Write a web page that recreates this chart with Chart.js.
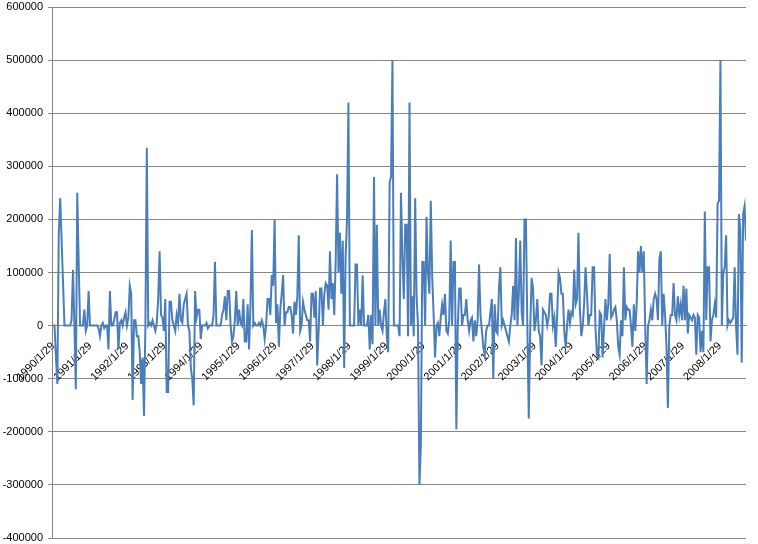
<!DOCTYPE html>
<html>
<head>
<meta charset="utf-8">
<script src="https://cdn.jsdelivr.net/npm/chart.js@4.4.0/dist/chart.umd.min.js"></script>
<style>
  html, body { margin: 0; padding: 0; background: #fff; }
  #wrap { width: 758px; height: 544px; }
</style>
</head>
<body>
<div id="wrap"><canvas id="chart" width="758" height="544"></canvas></div>
<script>
// x axis labels, one per year
const yearLabels = ['1990/1/29', '1991/1/29', '1992/1/29', '1993/1/29', '1994/1/29', '1995/1/29',
  '1996/1/29', '1997/1/29', '1998/1/29', '1999/1/29', '2000/1/29', '2001/1/29', '2002/1/29',
  '2003/1/29', '2004/1/29', '2005/1/29', '2006/1/29', '2007/1/29', '2008/1/29'];

// y axis range
const yMin = -400000;
const yMax = 600000;
const yStep = 100000;

// values every two weeks, starting 1990/1/29
const v1990 = [0, 0, -60000, -110000, 175000, 240000, 160000, 80000, 0, 0, 0, 0, 0, 10000, 105000, 0, -120000, 250000, 120000, 0, 0, 0, 30000, -10000, 0, 65000];
const v1991 = [0, 0, 0, 0, 0, 0, -5000, -20000, 0, 5000, -5000, 0, 0, -45000, 65000, 0, 0, 10000, 25000, 25000, -45000, 5000, 10000, 0, 15000, 25000];
const v1992 = [0, 15000, 75000, 60000, -140000, 10000, 10000, -20000, -20000, -50000, -110000, -60000, -170000, 0, 335000, 0, 5000, 0, 10000, 0, -10000, 5000, 50000, 140000, 20000, 15000];
const v1993 = [-10000, 50000, -125000, -125000, 45000, 45000, 10000, 0, -10000, 20000, 5000, 60000, 10000, 5000, 40000, 50000, 60000, 0, -10000, -80000, -100000, -150000, 65000, 15000, 30000, 30000];
const v1994 = [-25000, 0, 0, 0, 5000, -5000, 0, 0, 0, 20000, 120000, 0, 0, 0, 0, 20000, 30000, 55000, 10000, 65000, 65000, 0, -30000, -20000, 10000, 65000];
const v1995 = [0, 30000, 5000, 0, 50000, -30000, -30000, 40000, -45000, 40000, 180000, 0, 5000, 0, 0, 5000, 0, 10000, 0, -25000, 0, 50000, 50000, 20000, 95000, 75000];
const v1996 = [200000, 5000, 40000, -40000, 30000, 60000, 95000, 0, 25000, 25000, 35000, 35000, 20000, -15000, 45000, 20000, 55000, 170000, -10000, 0, 45000, 30000, 20000, 10000, 10000, -30000];
const v1997 = [60000, 60000, 15000, 65000, -75000, -10000, 70000, 70000, 0, 60000, 80000, 75000, 30000, 140000, 50000, 80000, 20000, 120000, 285000, 100000, 175000, 60000, 160000, -80000, 130000, 200000];
const v1998 = [420000, 0, 0, 0, 0, 115000, 115000, 0, 30000, 0, 95000, 0, 0, 0, 20000, -45000, 20000, -35000, 280000, 0, 190000, 0, 30000, 0, -10000, 25000];
const v1999 = [50000, -20000, -50000, 270000, 280000, 500000, 0, 0, 0, 0, -20000, 250000, 130000, 50000, 190000, 190000, -20000, 420000, 0, 55000, -20000, 240000, 55000, 0, -300000, -225000];
const v2000 = [120000, 120000, 0, 205000, 100000, 60000, 235000, 90000, 20000, -60000, 0, 5000, -20000, 15000, 40000, 20000, 60000, -10000, -15000, 10000, 160000, 0, 120000, 120000, -195000, 0];
const v2001 = [70000, 70000, 0, 20000, 20000, 50000, 10000, -10000, 10000, 15000, -30000, 10000, -20000, 10000, 115000, 20000, -10000, -40000, -55000, -10000, 0, 0, 25000, 50000, -100000, 40000];
const v2002 = [-10000, -15000, 70000, 110000, 0, 10000, 0, -10000, -20000, -30000, 0, 20000, 75000, 10000, 165000, 0, 60000, 160000, 25000, 0, 200000, 200000, 0, -175000, -10000, 90000];
const v2003 = [70000, -10000, 10000, 50000, -10000, -20000, -75000, 30000, 25000, 20000, 0, 15000, 60000, 60000, 0, 15000, -40000, 20000, 100000, 90000, 60000, 60000, -10000, -40000, 0, 30000];
const v2004 = [5000, 25000, 20000, 105000, 40000, 50000, 175000, 30000, -20000, 0, 40000, 110000, 60000, 0, 20000, 20000, 110000, 110000, -5000, -55000, -60000, 25000, 20000, -60000, -5000, 50000];
const v2005 = [10000, 40000, 135000, 15000, 20000, 30000, 35000, 10000, -40000, -55000, 10000, -20000, 110000, 10000, 35000, 30000, 30000, 0, -40000, 40000, -10000, 40000, 140000, 100000, 150000, 100000];
const v2006 = [140000, 0, -110000, 0, 10000, 30000, 10000, 50000, 60000, 50000, 10000, 125000, 140000, 0, 60000, 20000, -40000, -155000, 0, 20000, 20000, 80000, 20000, 10000, 55000, 20000];
const v2007 = [40000, 10000, 75000, 10000, 70000, -15000, 20000, 15000, 10000, 20000, 15000, -55000, 20000, 15000, -50000, -10000, -50000, 215000, 10000, 110000, 110000, -30000, 10000, 20000, 40000, 15000];
const v2008 = [230000, 235000, 500000, 0, 100000, 110000, 170000, 0, 10000, 5000, 10000, 15000, 110000, 0, -55000, 210000, 180000, -70000, 210000, 225000, 160000];

const daysPerStep = 14;
const values = [].concat(v1990, v1991, v1992, v1993, v1994, v1995, v1996, v1997, v1998, v1999,
  v2000, v2001, v2002, v2003, v2004, v2005, v2006, v2007, v2008);

// x = years since 1990/1/29
const points = values.map((v, i) => ({ x: i * daysPerStep / 365.25, y: v }));

const axisFont = { family: "'Liberation Sans', Arial, sans-serif", size: 11 };

new Chart(document.getElementById('chart'), {
  type: 'line',
  data: {
    datasets: [{
      data: points,
      borderColor: '#4a7ebb',
      borderWidth: 2,
      pointRadius: 0,
      tension: 0,
      fill: false
    }]
  },
  options: {
    responsive: false,
    animation: false,
    parsing: false,
    layout: { padding: { left: 3, right: 12, top: 7, bottom: 6 } },
    plugins: {
      legend: { display: false },
      tooltip: { enabled: false }
    },
    scales: {
      x: {
        type: 'linear',
        position: { y: 0 },
        min: -0.03,
        max: points[points.length - 1].x,
        grid: { display: false },
        border: { display: true, color: '#868686', width: 1 },
        afterBuildTicks: (scale) => {
          scale.ticks = yearLabels.map((_, i) => ({ value: i }));
        },
        afterFit: (scale) => {
          scale.paddingLeft = 0;
          scale.paddingRight = 0;
          scale.paddingTop = 0;
          scale.paddingBottom = 0;
        },
        ticks: {
          autoSkip: false,
          maxRotation: 45,
          minRotation: 45,
          padding: 6,
          color: '#000',
          font: axisFont,
          callback: (value, index) => yearLabels[index]
        }
      },
      y: {
        min: yMin,
        max: yMax,
        grid: { color: '#868686', lineWidth: 1, tickLength: 4 },
        border: { display: true, color: '#868686', width: 1 },
        afterFit: (scale) => {
          scale.width = 49;
          scale.paddingTop = 0;
          scale.paddingBottom = 0;
        },
        ticks: {
          stepSize: yStep,
          padding: 5,
          color: '#000',
          font: axisFont,
          callback: (value) => String(value)
        }
      }
    }
  }
});
</script>
</body>
</html>
